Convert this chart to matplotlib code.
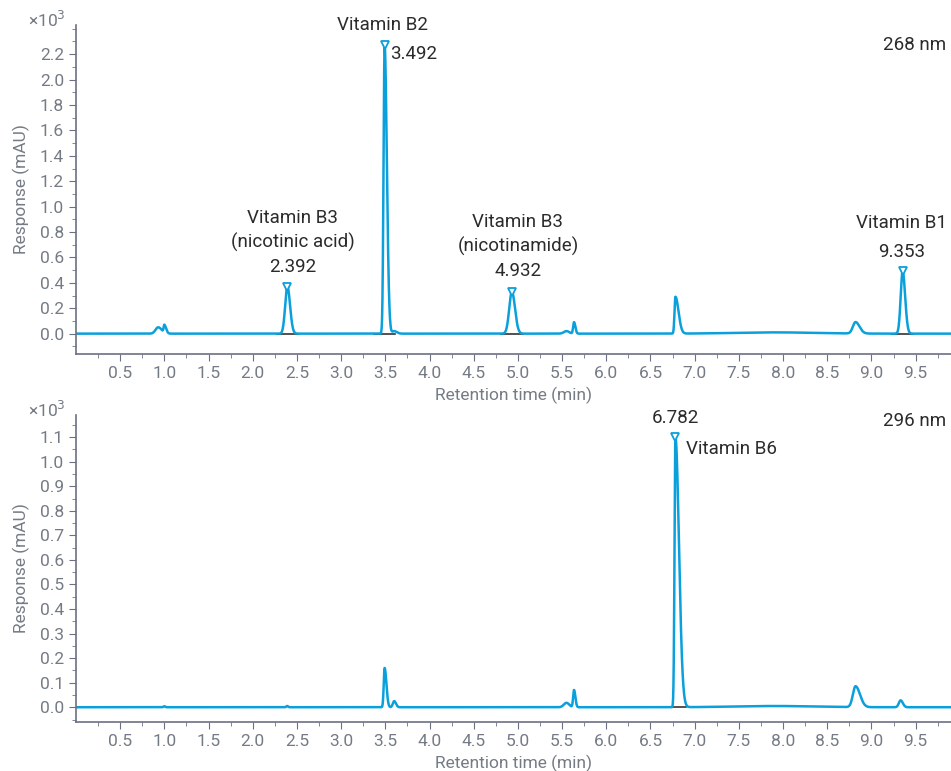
import matplotlib.pyplot as plt
import numpy as np

plt.rcParams['font.family'] = ['Roboto', 'DejaVu Sans']

#peak tables: retention time (min), height (x10^3 mAU), left / right width (min)
rt_268 = [0.93, 1.00, 2.392, 3.492, 3.60, 4.932, 5.55, 5.635, 6.782, 7.9, 8.82, 9.353]
h_268 = [0.05, 0.06, 0.37, 2.27, 0.02, 0.33, 0.02, 0.09, 0.29, 0.01, 0.09, 0.49]
wl_268 = [0.03, 0.008, 0.025, 0.012, 0.02, 0.03, 0.03, 0.01, 0.01, 0.45, 0.03, 0.022]
wr_268 = [0.04, 0.02, 0.03, 0.025, 0.03, 0.035, 0.03, 0.015, 0.035, 0.45, 0.045, 0.028]

rt_296 = [1.0, 2.39, 3.492, 3.60, 5.55, 5.635, 6.782, 7.9, 8.82, 9.33]
h_296 = [0.004, 0.005, 0.16, 0.025, 0.018, 0.07, 1.10, 0.005, 0.085, 0.028]
wl_296 = [0.01, 0.01, 0.01, 0.015, 0.03, 0.01, 0.01, 0.45, 0.03, 0.02]
wr_296 = [0.01, 0.01, 0.02, 0.02, 0.03, 0.015, 0.04, 0.45, 0.05, 0.025]

#labelled peaks
lab_rt_268 = [2.392, 3.492, 4.932, 9.353]
lab_h_268 = [0.37, 2.27, 0.33, 0.49]
lab_rt_296 = [6.782]
lab_h_296 = [1.10]

blue = '#0aa0dc'
grey = '#757b85'


def trace(t, rts, hs, wls, wrs):
    y = np.zeros_like(t)
    for r, h, wl, wr in zip(rts, hs, wls, wrs):
        w = np.where(t < r, wl, wr)
        y += h * np.exp(-0.5 * ((t - r) / w) ** 2)
    return y


t = np.linspace(0, 9.9, 6000)
y268 = trace(t, rt_268, h_268, wl_268, wr_268)
y296 = trace(t, rt_296, h_296, wl_296, wr_296)

fig = plt.figure(figsize=(9.51, 7.71), dpi=100)
ax1 = fig.add_axes([0.0799, 0.5409, 0.9201, 0.4267])
ax2 = fig.add_axes([0.0799, 0.0636, 0.9201, 0.3981])


def style(ax, ylim, top_label, major, minor):
    ax.set_xlim(0, 9.9)
    ax.set_ylim(*ylim)
    ax.set_xticks(np.arange(0.5, 9.6, 0.5))
    ax.set_xticks(np.arange(0.25, 9.9, 0.25), minor=True)
    majors = np.arange(0, top_label + major / 2, major)
    ax.set_yticks(majors)
    ax.set_yticks(np.arange(-minor, ylim[1], minor), minor=True)
    ax.set_yticklabels(['%.1f' % v for v in majors])
    for s in ['top', 'right']:
        ax.spines[s].set_visible(False)
    for s in ['left', 'bottom']:
        ax.spines[s].set_color('#6c7083')
        ax.spines[s].set_linewidth(1.2)
    ax.tick_params(which='both', colors='#6c7083', labelcolor=grey, labelsize=12.5)
    ax.tick_params(which='major', length=5)
    ax.tick_params(which='minor', length=3)
    ax.set_xlabel('Retention time (min)', color=grey, fontsize=12.5, labelpad=4)
    ax.set_ylabel('Response (mAU)', color=grey, fontsize=12.5, labelpad=7)
    ax.annotate('×10$^3$', xy=(0, 1), xycoords='axes fraction', xytext=(-48, 5),
                textcoords='offset pixels', color=grey, fontsize=12.5,
                ha='left', va='center')


ax1.plot(t, y268, color=blue, lw=1.8)
ax2.plot(t, y296, color=blue, lw=1.8)

for ax, rts, hs in [(ax1, lab_rt_268, lab_h_268), (ax2, lab_rt_296, lab_h_296)]:
    for r, h in zip(rts, hs):
        ax.plot([r - 0.12, r + 0.12], [0, 0], color='#333333', lw=1.2, zorder=1)
        ax.plot(r, h, marker='v', ms=6, mfc='white', mec=blue, mew=1.3, zorder=3)

style(ax1, (-0.16, 2.43), 2.2, 0.2, 0.1)
style(ax2, (-0.06, 1.19), 1.1, 0.1, 0.05)

txt = dict(color='#2b2b2b', fontsize=13.5)
ax1.text(2.45, 0.455, 'Vitamin B3\n(nicotinic acid)\n2.392', ha='center', va='bottom',
         linespacing=1.4, **txt)
ax1.text(3.47, 2.36, 'Vitamin B2', ha='center', va='bottom', **txt)
ax1.text(3.55, 2.13, '3.492', ha='left', va='bottom', **txt)
ax1.text(5.0, 0.425, 'Vitamin B3\n(nicotinamide)\n4.932', ha='center', va='bottom',
         linespacing=1.4, **txt)
ax1.text(9.34, 0.80, 'Vitamin B1', ha='center', va='bottom', **txt)
ax1.text(9.34, 0.57, '9.353', ha='center', va='bottom', **txt)
ax1.text(9.49, 2.27, '268 nm', ha='center', va='center', **txt)

ax2.text(6.78, 1.14, '6.782', ha='center', va='bottom', **txt)
ax2.text(6.9, 1.015, 'Vitamin B6', ha='left', va='bottom', **txt)
ax2.text(9.49, 1.166, '296 nm', ha='center', va='center', **txt)

fig.savefig('out.png', dpi=100)
